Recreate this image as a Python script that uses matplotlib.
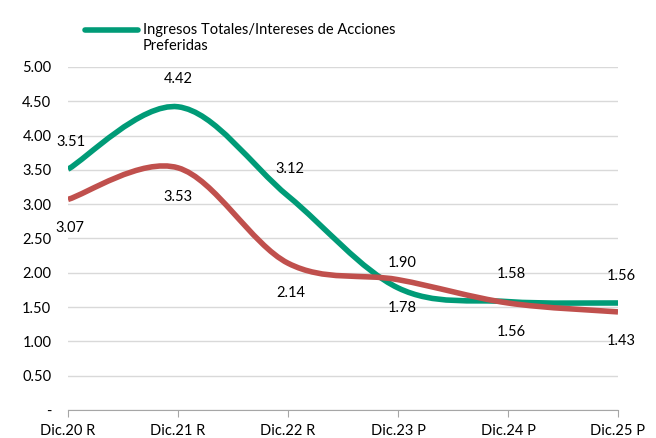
import matplotlib
matplotlib.use("Agg")
import matplotlib.pyplot as plt
from matplotlib.path import Path
from matplotlib.patches import PathPatch
from matplotlib.lines import Line2D

categories = ["Dic.20 R", "Dic.21 R", "Dic.22 R", "Dic.23 P", "Dic.24 P", "Dic.25 P"]
green_values = [3.51, 4.42, 3.12, 1.78, 1.58, 1.56]
red_values = [3.07, 3.53, 2.14, 1.90, 1.56, 1.43]
y_ticks = [0, 0.5, 1.0, 1.5, 2.0, 2.5, 3.0, 3.5, 4.0, 4.5, 5.0]
y_tick_labels = ["-", "0.50", "1.00", "1.50", "2.00", "2.50", "3.00", "3.50", "4.00", "4.50", "5.00"]
legend_label = "Ingresos Totales/Intereses de Acciones\nPreferidas"

GREEN = "#009B77"
RED = "#C0504D"
plt.rcParams['font.family'] = ['Lato', 'DejaVu Sans']

fig = plt.figure(figsize=(6.56, 4.38), dpi=100)
ax = fig.add_axes([68/656, 1-410/438, 550/656, 343/438])

def smooth_path(xs, ys, t=1/6):
    verts = [(xs[0], ys[0])]
    codes = [Path.MOVETO]
    n = len(xs)
    for i in range(n - 1):
        x0, y0 = (xs[i-1], ys[i-1]) if i > 0 else (xs[i], ys[i])
        x1, y1 = xs[i], ys[i]
        x2, y2 = xs[i+1], ys[i+1]
        x3, y3 = (xs[i+2], ys[i+2]) if i + 2 < n else (xs[i+1], ys[i+1])
        c1 = (x1 + (x2 - x0) * t, y1 + (y2 - y0) * t)
        c2 = (x2 - (x3 - x1) * t, y2 - (y3 - y1) * t)
        verts += [c1, c2, (x2, y2)]
        codes += [Path.CURVE4] * 3
    return Path(verts, codes)

xs = list(range(len(categories)))
for vals, col in [(green_values, GREEN), (red_values, RED)]:
    p = PathPatch(smooth_path(xs, vals), facecolor="none", edgecolor=col, lw=4, capstyle="butt", zorder=3)
    ax.add_patch(p)

ax.set_xlim(0, 5)
ax.set_ylim(0, 5)
ax.set_yticks(y_ticks)
ax.set_yticklabels(y_tick_labels, fontsize=10.5)
ax.set_xticks(xs)
ax.set_xticklabels(categories, fontsize=10.5)
ax.grid(axis="y", color="#D9D9D9", lw=1)
ax.set_axisbelow(True)
for s in ["top", "right", "left"]:
    ax.spines[s].set_visible(False)
ax.spines["bottom"].set_color("#A6A6A6")
ax.tick_params(axis="y", length=0, pad=12)
ax.tick_params(axis="x", direction="out", length=5, color="#A6A6A6", pad=5)

# data label offsets in pixels
green_off = [(3, 27), (0, 28), (2, 27), (4, -20), (3, 28), (3, 27)]
red_off = [(2, -29), (0, -29), (3, -30), (4, 17), (3, -29), (3, -29)]
for vals, offs in [(green_values, green_off), (red_values, red_off)]:
    for x, v, (dx, dy) in zip(xs, vals, offs):
        ax.annotate(f"{v:.2f}", (x, v), xytext=(dx, dy), textcoords="offset pixels",
                    ha="center", va="center", fontsize=10.5, annotation_clip=False)

fig.add_artist(Line2D([85/656, 138/656], [1-30/438, 1-30/438], color=GREEN, lw=4, solid_capstyle="round"))
fig.text(143/656, 1-38/438, legend_label, fontsize=10.5, va="center", ha="left", linespacing=1.2)

fig.savefig("out.png", dpi=100)
